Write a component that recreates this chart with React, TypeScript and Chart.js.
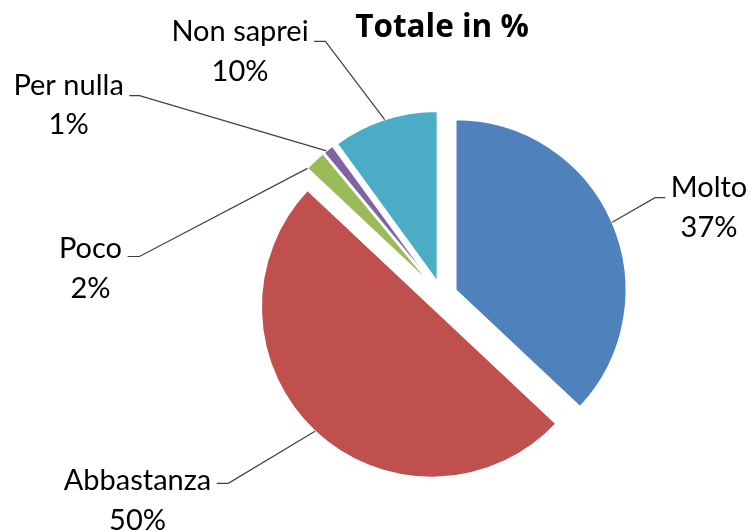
import React, { useEffect, useRef } from 'react';
import { Chart, registerables } from 'chart.js';

Chart.register(...registerables);

// ---- data ----
const categories = ['Molto', 'Abbastanza', 'Poco', 'Per nulla', 'Non saprei'];
const values = [37, 50, 2, 1, 10];
const titleText = 'Totale in %';

// ---- styles ----
const colors = ['#4F81BD', '#C0504D', '#9BBB59', '#8064A2', '#4BACC6'];
const FONT = 'Lato, "Open Sans", sans-serif';
const TITLE_FONT = '"Open Sans", Lato, sans-serif';
const LABEL_SIZE = 29;
const LINE_GAP = 39.5;
const TEXT_GAP = 5.5;

// label placement relative to the pie centre (layout, not data)
const labelLayout = [
  { dx: 267, dy: -98.7, side: 'left', elbowX: 213, lineDy: -98.3, anchor: 0.5 },
  { dx: -304.5, dy: 194, side: 'right', elbowX: -213.7, lineDy: 187.3, anchor: 0.5 },
  { dx: -351.5, dy: -37.7, side: 'right', elbowX: -302.5, lineDy: -39.5, anchor: 0 },
  { dx: -373.4, dy: -201.3, side: 'right', elbowX: -302.5, lineDy: -200.3, anchor: 0.28 },
  { dx: -202, dy: -254.7, side: 'right', elbowX: -116.6, lineDy: -254.7, anchor: 0.5 },
];

const explodePlugin = {
  id: 'explode',
  afterDatasetsUpdate(chart: any, _args: any, opts: any) {
    const meta = chart.getDatasetMeta(0);
    const d = opts.distance || 0;
    meta.data.forEach((arc: any) => {
      const mid = (arc.startAngle + arc.endAngle) / 2;
      arc.x += Math.cos(mid) * d;
      arc.y += Math.sin(mid) * d;
    });
  },
};

const labelPlugin = {
  id: 'sliceLabels',
  afterDatasetsDraw(chart: any) {
    const ctx = chart.ctx as CanvasRenderingContext2D;
    const meta = chart.getDatasetMeta(0);
    const area = chart.chartArea;
    const cx = (area.left + area.right) / 2;
    const cy = (area.top + area.bottom) / 2;
    const total = values.reduce((a, b) => a + b, 0);
    ctx.save();
    ctx.font = `${LABEL_SIZE}px ${FONT}`;
    ctx.textAlign = 'center';
    ctx.textBaseline = 'alphabetic';
    meta.data.forEach((arc: any, i: number) => {
      const L = labelLayout[i];
      const name = categories[i];
      const pct = Math.round((values[i] / total) * 100) + '%';
      const tx = cx + L.dx;
      const ty = cy + L.dy;
      const w = ctx.measureText(name).width;
      const a = arc.startAngle + L.anchor * (arc.endAngle - arc.startAngle);
      const px = arc.x + arc.outerRadius * Math.cos(a);
      const py = arc.y + arc.outerRadius * Math.sin(a);
      const ly = cy + L.lineDy;
      const ex = cx + L.elbowX;
      const nearX = L.side === 'left' ? tx - w / 2 - TEXT_GAP : tx + w / 2 + TEXT_GAP;
      ctx.strokeStyle = '#404040';
      ctx.lineWidth = 1.2;
      ctx.beginPath();
      ctx.moveTo(px, py);
      ctx.lineTo(ex, ly);
      ctx.lineTo(nearX, ly);
      ctx.stroke();
      ctx.fillStyle = '#000';
      ctx.fillText(name, tx, ty);
      ctx.fillText(pct, tx, ty + LINE_GAP);
    });
    ctx.restore();
  },
};

export default function App() {
  const ref = useRef<HTMLCanvasElement>(null);
  useEffect(() => {
    if (!ref.current) return;
    const chart = new Chart(ref.current, {
      type: 'pie',
      data: {
        labels: categories,
        datasets: [
          {
            data: values,
            backgroundColor: colors,
            borderColor: '#ffffff',
            borderWidth: 1.5,
            radius: 170.5,
          } as any,
        ],
      },
      options: {
        responsive: false,
        animation: false,
        events: [],
        layout: { padding: { left: 133, right: 0, top: 0, bottom: 0 } },
        plugins: {
          legend: { display: false },
          tooltip: { enabled: false },
          title: {
            display: true,
            text: titleText,
            color: '#000',
            font: { family: TITLE_FONT, size: 31.5, weight: 'bold', lineHeight: 1.2 },
            padding: { top: 9, bottom: 15.2 },
          },
          explode: { distance: 15 },
        } as any,
      },
      plugins: [explodePlugin, labelPlugin],
    });
    return () => chart.destroy();
  }, []);
  return (
    <div style={{ position: 'fixed', left: 0, top: 0, width: 751, height: 530, background: '#fff' }}>
      <canvas ref={ref} width={751} height={530} style={{ display: 'block' }} />
    </div>
  );
}
